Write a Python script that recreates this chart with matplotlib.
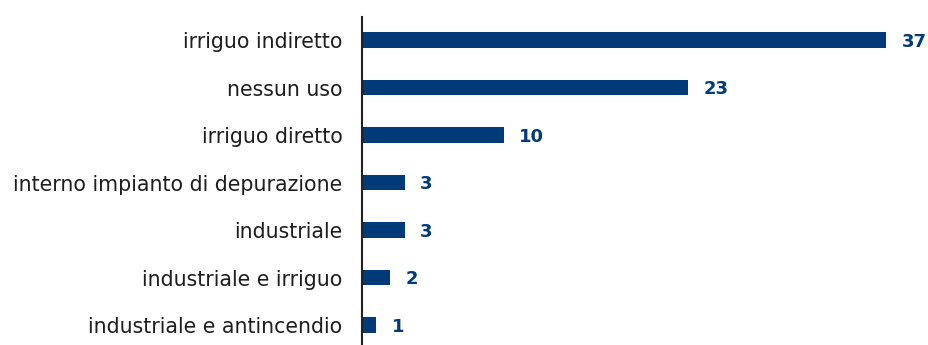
import matplotlib
matplotlib.use('Agg')
from matplotlib import pyplot as plt

categories = [
    'irriguo indiretto',
    'nessun uso',
    'irriguo diretto',
    'interno impianto di depurazione',
    'industriale',
    'industriale e irriguo',
    'industriale e antincendio',
]
counts = [37, 23, 10, 3, 3, 2, 1]

BAR_COLOR = '#003a78'

fig = plt.figure(figsize=(9.29, 3.45), dpi=100)
ax = fig.add_axes([0.3897, 0.0, 0.6103, 0.95])

rows = list(range(len(categories)))
ax.barh(rows, counts, height=0.32, color=BAR_COLOR)

# value labels to the right of each bar
for y, v in zip(rows, counts):
    ax.text(v + 1.1, y + 0.04, str(v), va='center', ha='left', fontsize=13,
            fontweight='bold', color=BAR_COLOR, family='DejaVu Sans')

ax.set_yticks(rows)
ax.set_yticklabels(categories, fontsize=14.8, color='#1e1e1e', family='DejaVu Sans')
ax.tick_params(axis='y', length=0, pad=14)
ax.set_xticks([])
ax.set_xlim(0, 40)
ax.set_ylim(6.42, -0.48)

for side in ['top', 'right', 'bottom']:
    ax.spines[side].set_visible(False)
ax.spines['left'].set_linewidth(1.5)
ax.spines['left'].set_color('#222222')

fig.savefig('out.png', dpi=100)
